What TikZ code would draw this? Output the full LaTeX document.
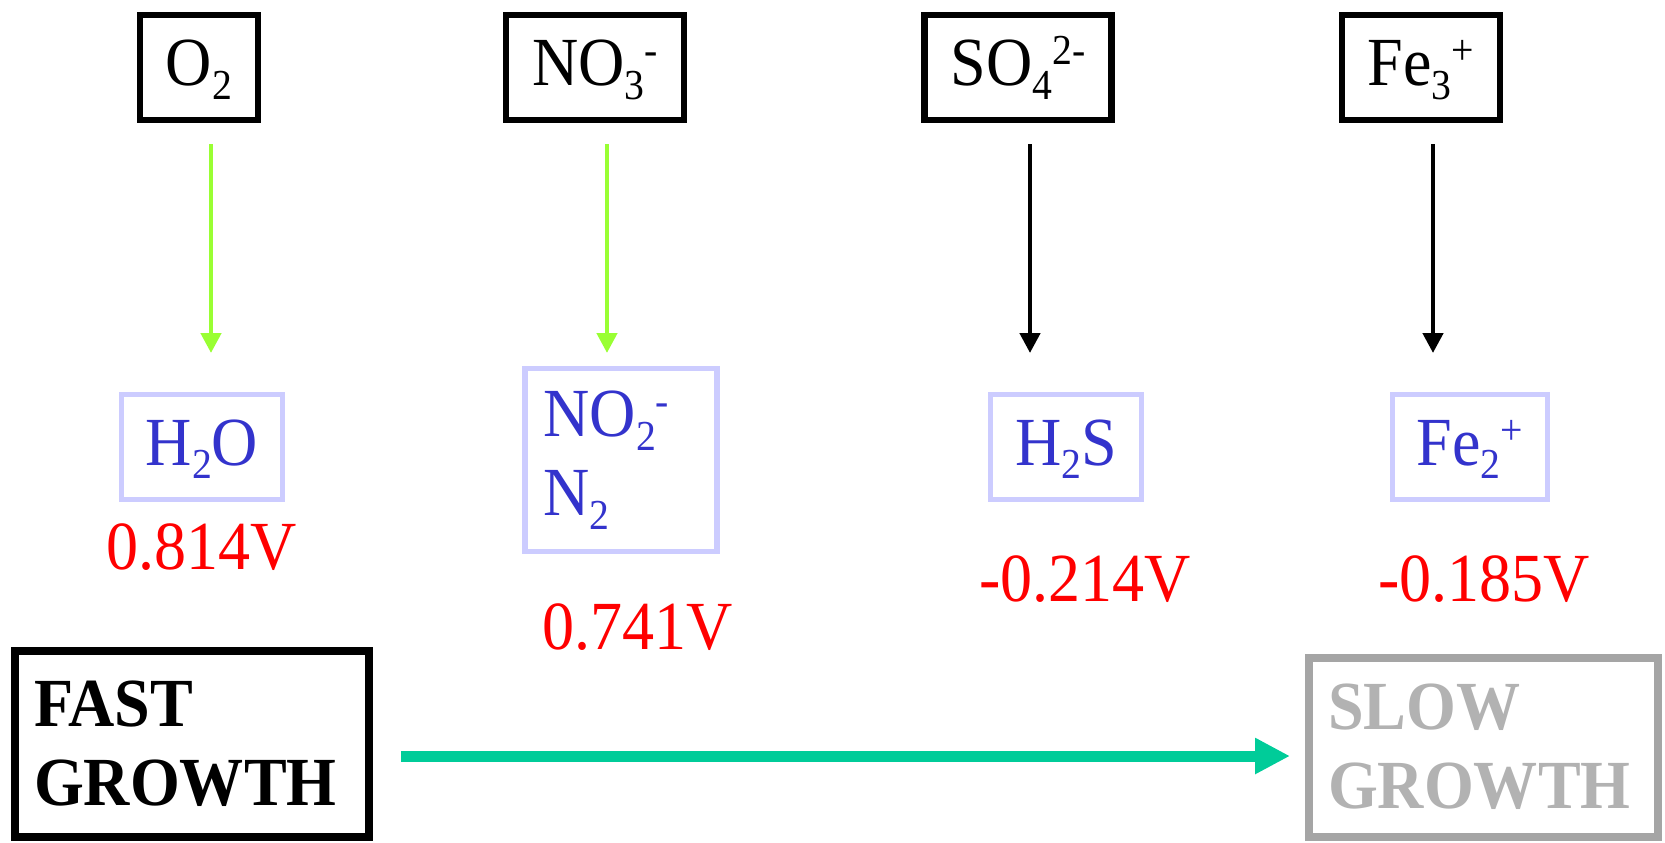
\documentclass[tikz,border=0pt]{standalone}
\usepackage{fontspec}
\setmainfont{Liberation Serif}[FakeStretch=0.93]
\usetikzlibrary{arrows.meta}
\definecolor{limegreen}{RGB}{153,255,51}
\definecolor{lavender}{RGB}{204,204,255}
\definecolor{chemblue}{RGB}{51,51,204}
\definecolor{tealgreen}{RGB}{0,204,153}
\definecolor{slowgray}{RGB}{165,165,165}
\definecolor{slowtext}{RGB}{178,178,178}
\newcommand{\chsub}[1]{\raisebox{-0.2em}{\scalebox{0.62}{#1}}}
\newcommand{\chsup}[1]{\raisebox{0.3em}{\scalebox{0.62}{#1}}}
\tikzset{
  every node/.style={font=\fontsize{19.6}{22.4}\selectfont},
  oneline/.style={text height=0.5cm, text depth=0.14cm},
  acceptor/.style={draw=black, line width=0.065cm, inner xsep=0.26cm, minimum height=1.05cm, oneline},
  product/.style={draw=lavender, line width=0.055cm, text=chemblue, inner xsep=0.245cm, minimum height=1.05cm},
  potential/.style={text=red, anchor=base, inner sep=0pt},
  rate/.style={line width=0.08cm, align=left, inner xsep=0.19cm, font=\fontsize{19.6}{22.4}\selectfont\bfseries},
  downarr/.style={line width=0.045cm, -{Triangle[length=0.2cm,width=0.2cm]}},
  growarr/.style={tealgreen, line width=0.11cm, -{Triangle[length=0.35cm,width=0.34cm]}}
}

\begin{document}
\begin{tikzpicture}
\useasboundingbox (0,0) rectangle (16.65,-8.42);
% electron acceptors
\node[acceptor] (o2)  at (1.99,-0.675)  {O\chsub{2}};
\node[acceptor] (no3) at (5.95,-0.675)  {NO\chsub{3}\chsup{-}};
\node[acceptor] (so4) at (10.18,-0.675) {SO\chsub{4}\chsup{2-}};
\node[acceptor] (fe3) at (14.21,-0.675) {Fe\chsub{3}\chsup{+}};
% reduced forms
\node[product, oneline] (h2o) at (2.02,-4.47) {H\chsub{2}O};
\node[product, align=left, text width=1.55cm, inner xsep=0.185cm, minimum height=1.83cm] (no2) at (6.21,-4.60) {NO\chsub{2}\chsup{-}\\N\chsub{2}};
\node[product, oneline] (h2s) at (10.66,-4.47) {H\chsub{2}S};
\node[product, oneline] (fe2) at (14.70,-4.47) {Fe\chsub{2}\chsup{+}};
% potentials
\node[potential] (vo2)  at (2.02,-5.69)  {0.814V};
\node[potential] (vno3) at (6.38,-6.49)  {0.741V};
\node[potential] (vso4) at (10.85,-6.01) {-0.214V};
\node[potential] (vfe3) at (14.84,-6.01) {-0.185V};
\coordinate (tips) at (0,-3.53);
\foreach \src/\col in {o2/limegreen,no3/limegreen,so4/black,fe3/black}
  \draw[downarr,\col,shorten <=0.21cm] ([xshift=0.12cm]\src.south) -- ([xshift=0.12cm]\src.south |- tips);
% growth
\node[rate, draw=black, text width=3.16cm, minimum height=1.86cm] (fast) at (1.92,-7.435) {FAST\\GROWTH};
\node[rate, draw=slowgray, text=slowtext, text width=3.11cm, minimum height=1.79cm] (slow) at (14.835,-7.47) {SLOW\\GROWTH};
\coordinate (growline) at (0,-7.56);
\draw[growarr,shorten <=0.28cm,shorten >=0.15cm] (fast.east |- growline) -- (slow.west |- growline);
\end{tikzpicture}
\end{document}
